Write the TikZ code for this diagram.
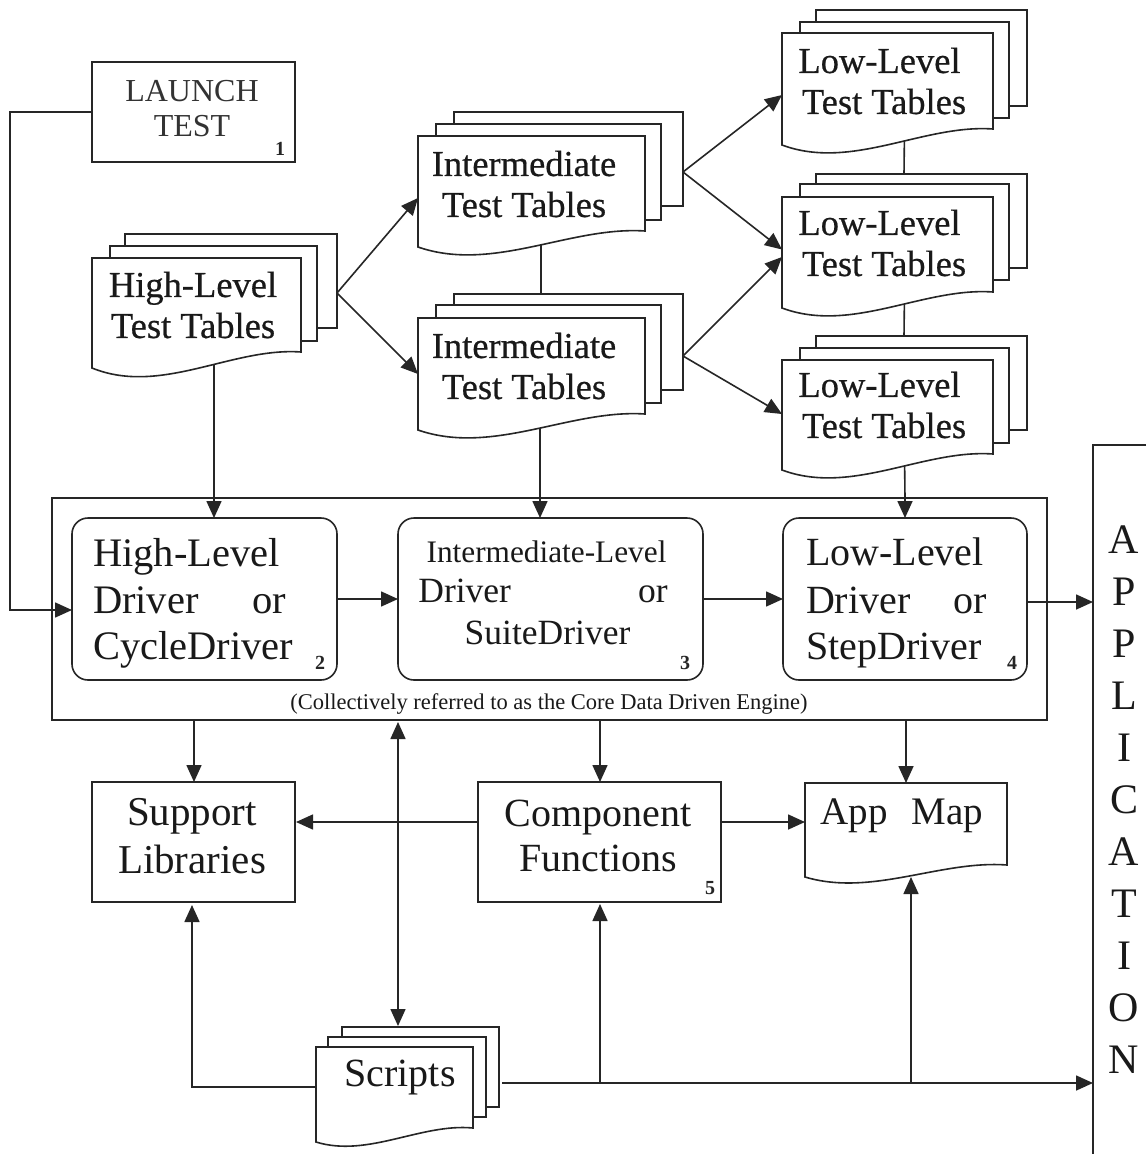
\documentclass[tikz,border=0pt]{standalone}
\usepackage{fontspec}
\setmainfont{Liberation Serif}
\newfontfamily\heavy[RawFeature={embolden=0.5}]{Liberation Serif}
\usetikzlibrary{arrows.meta,backgrounds}
\newcommand{\fsz}[1]{\fontsize{#1}{#1}\selectfont}
\tikzset{
  line/.style={draw=black!85,line width=1.6pt},
  arr/.style={line,-{Triangle[length=17pt,width=15pt]}},
  dblarr/.style={line,{Triangle[length=17pt,width=15pt]}-{Triangle[length=17pt,width=15pt]}},
  sheetfill/.style={line,fill=white},
  area/.style={inner sep=0,outer sep=0,rectangle},
  boxed/.style={area,line,fill=white},
  lab/.style={inner sep=0,outer sep=0,align=center,text=black!90},
  num/.style={inner sep=0,outer sep=0,font=\bfseries\fsz{20},text=black!85},
}
% plain sheet of a stack
\newcommand{\sheetbox}[5]{%
  \node[area,sheetfill,minimum width={(#4-#2)*1pt},minimum height={(#5-#3)*1pt}] (#1) at ({(#2+#4)/2},{(#3+#5)/2}) {};}
% wavy front sheet: name, left, top, right, bottom-right, left drop, control depth
\newcommand{\wavedoc}[7]{%
  \draw[sheetfill] (#2,#3) -- (#4,#3) -- (#4,#5)
    .. controls ({#4-.33*(#4-#2)},{#5-5}) and ({#2+.33*(#4-#2)},{#5+#7}) .. (#2,{#5+#6}) -- cycle;
  \node[area,minimum width={(#4-#2)*1pt},minimum height={(#5-#3)*1pt}] (#1) at ({(#2+#4)/2},{(#3+#5)/2}) {};}
\begin{document}
\begin{tikzpicture}[x=1pt,y=-1pt]
\useasboundingbox (0,0) rectangle (1146,1154);
\begin{scope}[on background layer]
\fill[white] (0,0) rectangle (1146,1154);
\end{scope}

% LAUNCH
\node[boxed,minimum width=203pt,minimum height=100pt] (launch) at (193.5,112) {};
\node[lab,font=\fsz{32},text=black!80] (launchT) at (192,108.5) {LAUNCH\\[3pt]TEST};
\node[num] (n1) at (280,149) {1};

% High-level stack
\sheetbox{hi-b}{125}{234}{337}{328}
\sheetbox{hi-m}{110}{246}{317}{341}
\wavedoc{hi}{92}{258}{301}{352}{16}{44}
\node[lab,font=\heavy\fsz{36.5}] (hiT) at (193,305) {High-Level\\[4.5pt]Test Tables};

% Intermediate stacks
\sheetbox{ia-b}{454}{112}{683}{206}
\sheetbox{ia-m}{436}{124}{661}{220}
\wavedoc{ia}{418}{136}{645}{231}{16}{42}
\node[lab,font=\heavy\fsz{36.5}] (iaT) at (524,184) {Intermediate\\[4.5pt]Test Tables};

\sheetbox{ib-b}{454}{294}{683}{390}
\sheetbox{ib-m}{436}{305}{661}{403}
\wavedoc{ib}{418}{318}{645}{414}{16}{42}
\node[lab,font=\heavy\fsz{36.5}] (ibT) at (524,366) {Intermediate\\[4.5pt]Test Tables};

% Low-level stacks
\sheetbox{la-b}{816}{10}{1027}{106}
\sheetbox{la-m}{800}{22}{1009}{118}
\wavedoc{la}{782}{33}{993}{129}{16}{42}
\node[lab,font=\heavy\fsz{36.5}] (laT) at (884,81) {Low-Level\hspace*{9pt}\\[4.5pt]Test Tables};

\sheetbox{lb-b}{816}{174}{1027}{268}
\sheetbox{lb-m}{800}{184}{1009}{280}
\wavedoc{lb}{782}{197}{993}{292}{16}{42}
\node[lab,font=\heavy\fsz{36.5}] (lbT) at (884,243) {Low-Level\hspace*{9pt}\\[4.5pt]Test Tables};

\sheetbox{lc-b}{816}{336}{1027}{430}
\sheetbox{lc-m}{800}{348}{1009}{443}
\wavedoc{lc}{782}{360}{993}{454}{16}{42}
\node[lab,font=\heavy\fsz{36.5}] (lcT) at (884,405) {Low-Level\hspace*{9pt}\\[4.5pt]Test Tables};

% Engine frame and driver boxes
\node[area,line,minimum width=995pt,minimum height=222pt] (engine) at (549.5,609) {};
\node[boxed,rounded corners=16pt,minimum width=265pt,minimum height=162pt] (d1) at (204.5,599) {};
\node[boxed,rounded corners=16pt,minimum width=305pt,minimum height=162pt] (d2) at (550.5,599) {};
\node[boxed,rounded corners=16pt,minimum width=244pt,minimum height=162pt] (d3) at (905,599) {};
\node[lab,font=\fsz{40.5},align=left,anchor=west] (d1T) at (93,603) {High-Level\\[7pt]Driver\hspace{54pt}or\\[5pt]CycleDriver};
\node[lab,font=\fsz{35.5},anchor=center] (d2T) at (543,593) {\hspace*{7pt}{\fsz{31.3}Intermediate-Level}\\[4pt]Driver\hspace{127pt}or\\[7pt]\hspace*{9pt}SuiteDriver};
\node[lab,font=\fsz{40},align=left,anchor=west] (d3T) at (806,603) {Low-Level\\[8pt]Driver\hspace{43pt}or\\[6pt]StepDriver};
\node[num] (n2) at (320,663) {2};
\node[num] (n3) at (685,663) {3};
\node[num] (n4) at (1012,663) {4};
\node[lab,font=\fsz{22.5}] (engineT) at (549,704) {(Collectively referred to as the Core Data Driven Engine)};

% Lower row
\node[boxed,minimum width=203pt,minimum height=120pt] (support) at (193.5,842) {};
\node[lab,font=\fsz{41}] (supportT) at (192,836) {Support\\[7pt]Libraries};
\node[boxed,minimum width=243pt,minimum height=120pt] (comp) at (599.5,842) {};
\node[lab,font=\fsz{40}] (compT) at (598,836) {Component\\[5pt]Functions};
\node[num] (n5) at (710,888) {5};
\wavedoc{map}{805}{783}{1007}{865}{12}{32}
\node[lab,font=\fsz{39}] (mapT) at (902,816) {App\hspace{24pt}Map};

% Scripts stack
\sheetbox{sc-b}{342}{1027}{499}{1107}
\sheetbox{sc-m}{328}{1037}{486}{1117}
\wavedoc{sc}{316}{1047}{473}{1128}{14}{30}
\node[lab,font=\fsz{40}] (scT) at (400,1078) {Scripts};

% Application column
\node[area,minimum width=53pt,minimum height=709pt] (app) at (1119.5,799.5) {};
\draw[line] (app.north east) -- (app.north west) -- (app.south west);
\node[lab,font=\fontsize{42}{52}\selectfont] (appT) at (1124,800) {A\\P\\P\\L\\I\\C\\A\\T\\I\\O\\N};

% Helper end points
\coordinate (turn) at (10,610);
\coordinate (bus) at ([yshift=-16pt,xshift=3pt]sc-b.east);
\coordinate (mapin) at ([xshift=5pt,yshift=-12pt]map.south);

% Connectors hidden behind sheets
\begin{scope}[on background layer]
\draw[line] ([xshift=9.5pt]ia.south) -- ([xshift=-27.5pt]ib-b.north);
\draw[line] ([xshift=17pt]la.south) -- ([xshift=-17.5pt]lb-b.north);
\draw[line] ([xshift=17pt]lb.south) -- ([xshift=-17.5pt]lc-b.north);
\end{scope}

% Top connectors
\draw[arr] ([yshift=-12pt]hi-b.east) -- ([yshift=-14.5pt]ia.west);
\draw[arr] ([yshift=-12pt]hi-b.east) -- ([yshift=-8pt]ib.west);
\draw[arr] ([yshift=-13pt]ia-b.east) -- ([yshift=-14pt]la.west);
\draw[arr] ([yshift=-13pt]ia-b.east) -- ([yshift=-5pt]lb.west);
\draw[arr] ([yshift=-14pt]ib-b.east) -- ([yshift=-12.5pt]lb.west);
\draw[arr] ([yshift=-14pt]ib-b.east) -- ([yshift=-7pt]lc.west);

% Into the drivers
\begin{scope}[on background layer]
\draw[line] ([xshift=17.5pt]hi.south) -- ([xshift=9.5pt,yshift=20pt]d1.north);
\draw[line] ([xshift=8.5pt]ib.south) -- ([xshift=-10.5pt,yshift=20pt]d2.north);
\draw[line] ([xshift=17pt]lc.south) -- ([yshift=20pt]d3.north);
\end{scope}
\draw[arr] ([xshift=9.5pt,yshift=20pt]d1.north) -- ([xshift=9.5pt]d1.north);
\draw[arr] ([xshift=-10.5pt,yshift=20pt]d2.north) -- ([xshift=-10.5pt]d2.north);
\draw[arr] ([yshift=20pt]d3.north) -- (d3.north);
\draw[arr] (launch.west) -| (turn) -- ([yshift=-11pt]d1.west);
\draw[arr] (d1.east) -- (d2.west);
\draw[arr] (d2.east) -- (d3.west);
\draw[arr] ([yshift=-3pt]d3.east) -- ([yshift=-3pt]d3.east -| app.west);

% Below the engine
\draw[arr] ([xshift=.5pt]engine.south -| support.north) -- ([xshift=.5pt]support.north);
\draw[arr] ([xshift=.5pt]engine.south -| comp.north) -- ([xshift=.5pt]comp.north);
\draw[arr] (engine.south -| map.north) -- (map.north);
\draw[dblarr] ([xshift=-151.5pt,yshift=-2pt]engine.south) -- ([xshift=-22.5pt,yshift=1pt]sc-b.north);
\draw[arr] ([yshift=20pt]comp.west) -- ([xshift=1pt,yshift=20pt]support.east);
\draw[arr] ([yshift=20pt]comp.east) -- ([yshift=20pt]comp.east -| map.west);

% From the scripts
\draw[arr] ([yshift=.5pt]sc.west) -| ([xshift=-1.5pt,yshift=-3pt]support.south);
\draw[arr] (bus) -- (bus -| app.west);
\draw[arr] ([xshift=.5pt]bus -| comp.south) -- ([xshift=.5pt,yshift=-2pt]comp.south);
\draw[arr] (bus -| mapin) -- (mapin);
\end{tikzpicture}
\end{document}
